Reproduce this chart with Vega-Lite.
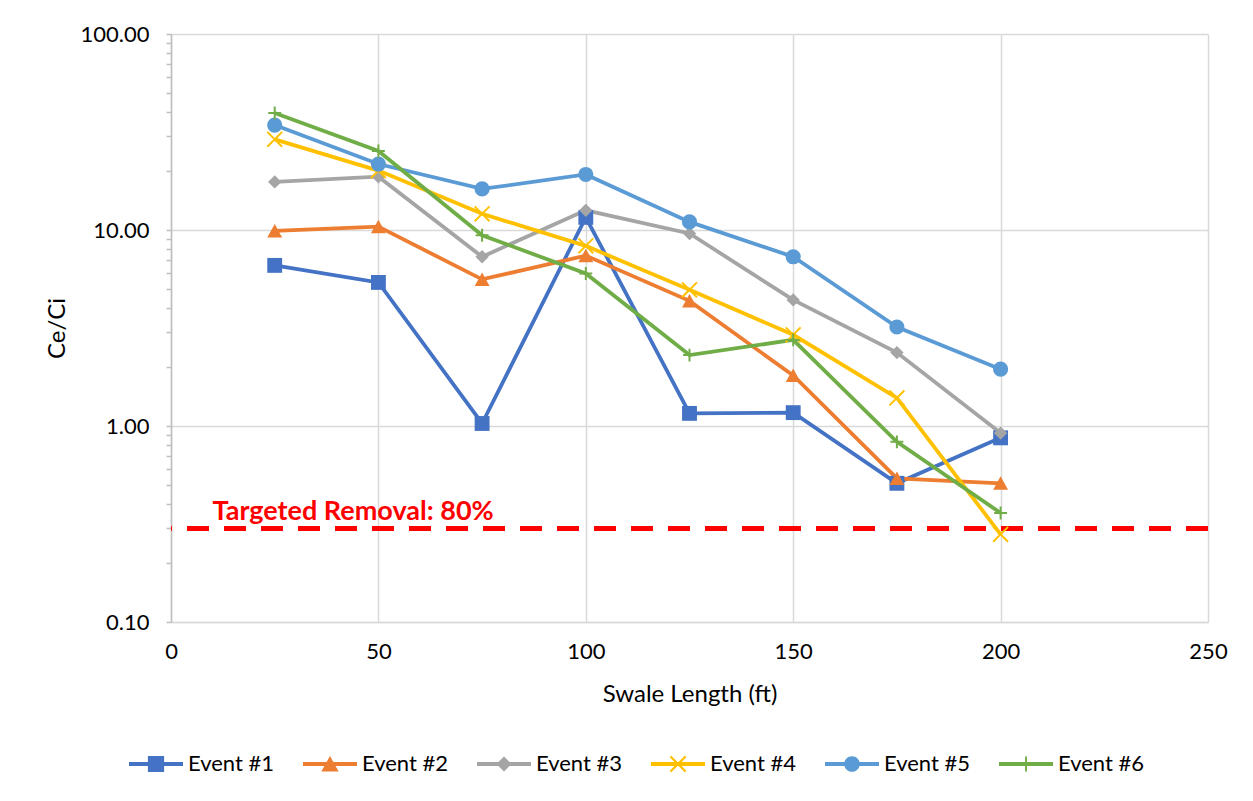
{
  "$schema": "https://vega.github.io/schema/vega-lite/v6.json",
  "width": 1037,
  "height": 588,
  "autosize": {"type": "none"},
  "padding": {"left": 171, "top": 34, "right": 45, "bottom": 179},
  "background": "white",
  "config": {
    "font": "Lato",
    "view": {"stroke": null},
    "text": {"font": "Lato"}
  },
  "data": {
    "values": [
      {"event": "Event #1", "length": 25, "ratio": 6.6},
      {"event": "Event #1", "length": 50, "ratio": 5.4},
      {"event": "Event #1", "length": 75, "ratio": 1.03},
      {"event": "Event #1", "length": 100, "ratio": 11.6},
      {"event": "Event #1", "length": 125, "ratio": 1.16},
      {"event": "Event #1", "length": 150, "ratio": 1.17},
      {"event": "Event #1", "length": 175, "ratio": 0.51},
      {"event": "Event #1", "length": 200, "ratio": 0.87},
      {"event": "Event #2", "length": 25, "ratio": 9.9},
      {"event": "Event #2", "length": 50, "ratio": 10.4},
      {"event": "Event #2", "length": 75, "ratio": 5.6},
      {"event": "Event #2", "length": 100, "ratio": 7.4},
      {"event": "Event #2", "length": 125, "ratio": 4.35},
      {"event": "Event #2", "length": 150, "ratio": 1.81},
      {"event": "Event #2", "length": 175, "ratio": 0.54},
      {"event": "Event #2", "length": 200, "ratio": 0.51},
      {"event": "Event #3", "length": 25, "ratio": 17.6},
      {"event": "Event #3", "length": 50, "ratio": 18.7},
      {"event": "Event #3", "length": 75, "ratio": 7.3},
      {"event": "Event #3", "length": 100, "ratio": 12.6},
      {"event": "Event #3", "length": 125, "ratio": 9.6},
      {"event": "Event #3", "length": 150, "ratio": 4.4},
      {"event": "Event #3", "length": 175, "ratio": 2.37},
      {"event": "Event #3", "length": 200, "ratio": 0.92},
      {"event": "Event #4", "length": 25, "ratio": 29.0},
      {"event": "Event #4", "length": 50, "ratio": 20.1},
      {"event": "Event #4", "length": 75, "ratio": 12.1},
      {"event": "Event #4", "length": 100, "ratio": 8.3},
      {"event": "Event #4", "length": 125, "ratio": 4.95},
      {"event": "Event #4", "length": 150, "ratio": 2.92},
      {"event": "Event #4", "length": 175, "ratio": 1.39},
      {"event": "Event #4", "length": 200, "ratio": 0.28},
      {"event": "Event #5", "length": 25, "ratio": 34.3},
      {"event": "Event #5", "length": 50, "ratio": 21.7},
      {"event": "Event #5", "length": 75, "ratio": 16.2},
      {"event": "Event #5", "length": 100, "ratio": 19.2},
      {"event": "Event #5", "length": 125, "ratio": 11.0},
      {"event": "Event #5", "length": 150, "ratio": 7.3},
      {"event": "Event #5", "length": 175, "ratio": 3.2},
      {"event": "Event #5", "length": 200, "ratio": 1.95},
      {"event": "Event #6", "length": 25, "ratio": 39.5},
      {"event": "Event #6", "length": 50, "ratio": 25.3},
      {"event": "Event #6", "length": 75, "ratio": 9.4},
      {"event": "Event #6", "length": 100, "ratio": 6.0},
      {"event": "Event #6", "length": 125, "ratio": 2.3},
      {"event": "Event #6", "length": 150, "ratio": 2.75},
      {"event": "Event #6", "length": 175, "ratio": 0.83},
      {"event": "Event #6", "length": 200, "ratio": 0.36}
    ]
  },
  "layer": [
    {
      "data": {"values": [{"ratio": 0.3}]},
      "mark": {"type": "rule", "color": "#FF0000", "strokeWidth": 5, "strokeDash": [22, 15]},
      "encoding": {
        "y": {"field": "ratio", "type": "quantitative", "scale": {"type": "log", "domain": [0.1, 100], "nice": false}}
      }
    },
    {
      "data": {"values": [{"length": 10, "ratio": 0.3, "label": "Targeted Removal: 80%"}]},
      "mark": {"type": "text", "align": "left", "baseline": "alphabetic", "dy": -8, "fontSize": 27, "fontWeight": "bold", "color": "#FF0000"},
      "encoding": {
        "x": {"field": "length", "type": "quantitative", "scale": {"domain": [0, 250], "nice": false}},
        "y": {"field": "ratio", "type": "quantitative", "scale": {"type": "log", "domain": [0.1, 100], "nice": false}},
        "text": {"field": "label"}
      }
    },
    {
      "mark": {"type": "line", "strokeWidth": 3.8},
      "encoding": {
        "x": {
          "field": "length", "type": "quantitative",
          "scale": {"domain": [0, 250], "nice": false},
          "axis": {
            "title": "Swale Length (ft)",
            "values": [0, 50, 100, 150, 200, 250],
            "grid": true, "gridColor": "#d9d9d9", "gridWidth": 1.5,
            "ticks": false, "tickSize": 0,
            "domainColor": "#d9d9d9", "domainWidth": 1.5,
            "labelFontSize": 22, "labelColor": "#000000", "labelPadding": 19, "labelFlush": false,
            "titleFontSize": 24, "titleFontWeight": "normal", "titleColor": "#000000", "titlePadding": 20
          }
        },
        "y": {
          "field": "ratio", "type": "quantitative",
          "scale": {"type": "log", "domain": [0.1, 100], "nice": false},
          "axis": {
            "title": "Ce/Ci",
            "values": [0.1, 0.2, 0.3, 0.4, 0.5, 0.6, 0.7, 0.8, 0.9, 1, 2, 3, 4, 5, 6, 7, 8, 9, 10, 20, 30, 40, 50, 60, 70, 80, 90, 100],
            "labelExpr": "abs(log(datum.value) / LN10 - round(log(datum.value) / LN10)) < 0.001 ? format(datum.value, '.2f') : ''",
            "labelOverlap": false,
            "labelFlush": false,
            "grid": true, "gridColor": "#d9d9d9", "gridWidth": 1.5,
            "gridOpacity": {"condition": {"test": "abs(log(datum.value) / LN10 - round(log(datum.value) / LN10)) < 0.001", "value": 1}, "value": 0},
            "domainColor": "#bfbfbf", "domainWidth": 1.5,
            "tickColor": "#bfbfbf", "tickSize": 5, "tickWidth": 1.5,
            "labelFontSize": 22, "labelColor": "#000000", "labelPadding": 17,
            "titleFontSize": 24, "titleFontWeight": "normal", "titleColor": "#000000", "titlePadding": 11
          }
        },
        "color": {
          "field": "event", "type": "nominal",
          "scale": {
            "domain": ["Event #1", "Event #2", "Event #3", "Event #4", "Event #5", "Event #6"],
            "range": ["#4472C4", "#ED7D31", "#A5A5A5", "#FFC000", "#5B9BD5", "#70AD47"]
          },
          "legend": null
        }
      }
    },
    {
      "mark": {"type": "point", "filled": true, "opacity": 1, "size": 230, "strokeWidth": 0},
      "encoding": {
        "x": {"field": "length", "type": "quantitative", "scale": {"domain": [0, 250], "nice": false}},
        "y": {"field": "ratio", "type": "quantitative", "scale": {"type": "log", "domain": [0.1, 100], "nice": false}},
        "color": {
          "field": "event", "type": "nominal",
          "scale": {
            "domain": ["Event #1", "Event #2", "Event #3", "Event #4", "Event #5", "Event #6"],
            "range": ["#4472C4", "#ED7D31", "#A5A5A5", "#FFC000", "#5B9BD5", "#70AD47"]
          },
          "legend": null
        },
        "shape": {
          "field": "event", "type": "nominal",
          "scale": {
            "domain": ["Event #1", "Event #2", "Event #3", "Event #4", "Event #5", "Event #6"],
            "range": [
              "M-0.98,-0.98H0.98V0.98H-0.98Z",
              "M0,-0.92L0.98,0.86H-0.98Z",
              "M0,-0.88L0.88,0L0,0.88L-0.88,0Z",
              "M-0.89,-1.07L1.07,0.89L0.89,1.07L-1.07,-0.89Z M-0.89,1.07L-1.07,0.89L0.89,-1.07L1.07,-0.89Z",
              "circle",
              "M-0.85,-0.13H0.85V0.13H-0.85Z M-0.13,-0.85H0.13V0.85H-0.13Z"
            ]
          },
          "legend": null
        }
      }
    },
    {
      "transform": [{"filter": "false"}],
      "mark": {"type": "point", "filled": true, "opacity": 1, "strokeWidth": 0},
      "encoding": {
        "x": {"field": "length", "type": "quantitative", "scale": {"domain": [0, 250], "nice": false}},
        "y": {"field": "ratio", "type": "quantitative", "scale": {"type": "log", "domain": [0.1, 100], "nice": false}},
        "color": {
          "field": "event", "type": "nominal",
          "scale": {
            "domain": ["Event #1", "Event #2", "Event #3", "Event #4", "Event #5", "Event #6"],
            "range": ["#4472C4", "#ED7D31", "#A5A5A5", "#FFC000", "#5B9BD5", "#70AD47"]
          },
          "legend": {
            "title": null, "orient": "none", "legendX": -42, "legendY": 703,
            "direction": "horizontal", "columns": 6, "columnPadding": 28,
            "symbolSize": 2916, "symbolStrokeWidth": 0, "symbolOpacity": 1,
            "labelFontSize": 22, "labelFont": "Lato", "labelColor": "#000000", "labelOffset": 5
          }
        },
        "shape": {
          "field": "event", "type": "nominal",
          "scale": {
            "domain": ["Event #1", "Event #2", "Event #3", "Event #4", "Event #5", "Event #6"],
            "range": [
              "M-1,-0.074H1V0.074H-1Z M-0.3,-0.3H0.3V0.3H-0.3Z",
              "M-1,-0.074H1V0.074H-1Z M0,-0.3L0.32,0.28H-0.32Z",
              "M-1,-0.074H1V0.074H-1Z M0,-0.28L0.28,0L0,0.28L-0.28,0Z",
              "M-1,-0.074H1V0.074H-1Z M-0.25,-0.31L0.31,0.25L0.25,0.31L-0.31,-0.25Z M-0.25,0.31L-0.31,0.25L0.25,-0.31L0.31,-0.25Z",
              "M-1,-0.074H1V0.074H-1Z M-0.29,0A0.29,0.29,0,1,1,0.29,0A0.29,0.29,0,1,1,-0.29,0Z",
              "M-1,-0.074H1V0.074H-1Z M-0.26,-0.035H0.26V0.035H-0.26Z M-0.035,-0.28H0.035V0.28H-0.035Z"
            ]
          },
          "legend": {
            "title": null, "orient": "none", "legendX": -42, "legendY": 703,
            "direction": "horizontal", "columns": 6, "columnPadding": 28,
            "symbolSize": 2916, "symbolStrokeWidth": 0, "symbolOpacity": 1,
            "labelFontSize": 22, "labelFont": "Lato", "labelColor": "#000000", "labelOffset": 5
          }
        }
      }
    }
  ],
  "resolve": {"scale": {"shape": "independent", "color": "independent"}}
}
